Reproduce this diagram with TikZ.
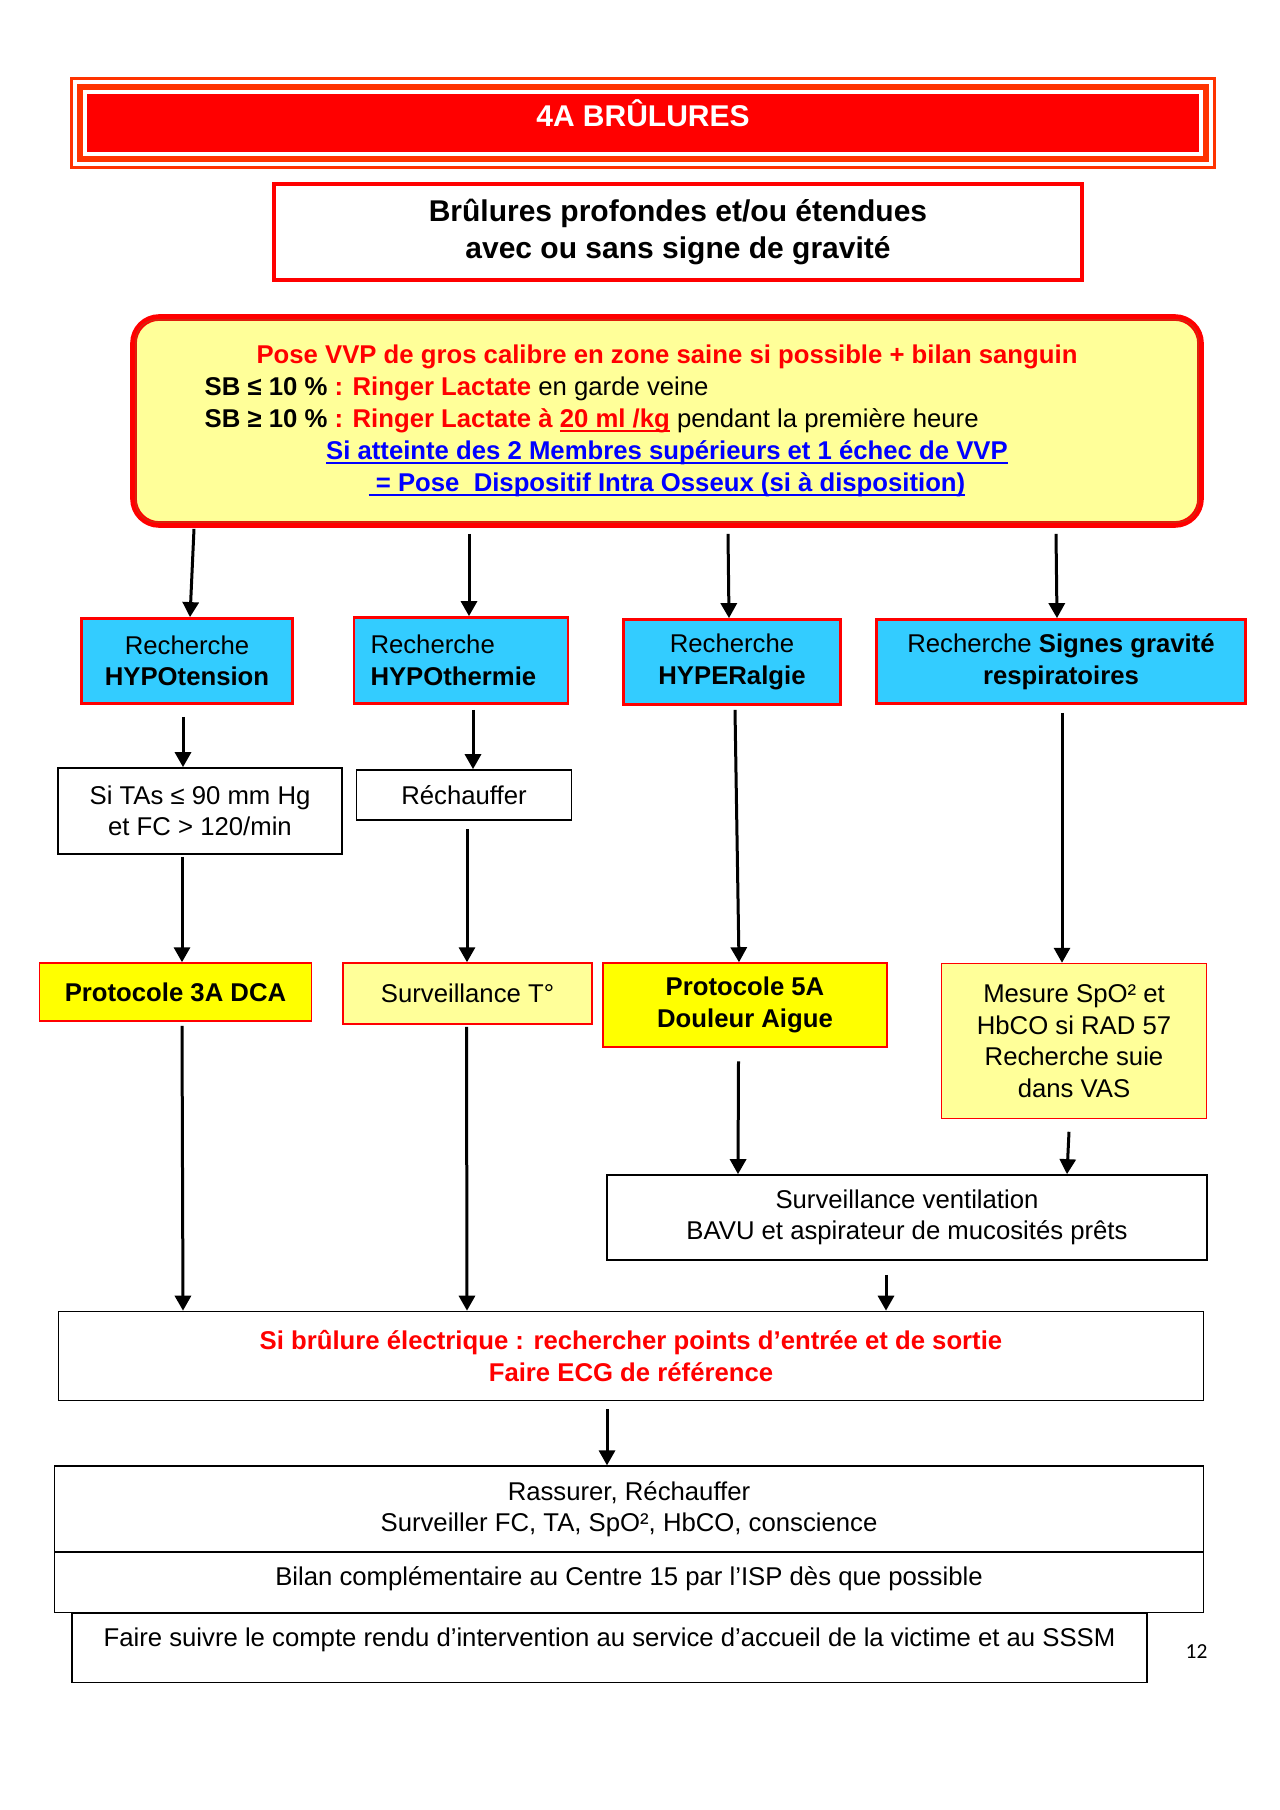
\documentclass[tikz,border=0pt]{standalone}
\usepackage{fontspec}
\setmainfont{Liberation Sans}
\newfontfamily\pagefont{Carlito}
\usetikzlibrary{arrows.meta, calc}
\newlength\pxu
\setlength\pxu{0.016406cm}
\newcommand\txt{\fontsize{12}{14.7}\selectfont}
\newsavebox\ulbox
\newcommand\undl[1]{\sbox\ulbox{#1}\rlap{\usebox\ulbox}\rule[-2pt]{\wd\ulbox}{0.8pt}}
\definecolor{ttlred}{HTML}{FF0000}
\definecolor{ttlorange}{HTML}{FF3300}
\definecolor{paleyellow}{HTML}{FFFF99}
\definecolor{skyblue}{HTML}{33CCFF}
\definecolor{protoyellow}{HTML}{FFFF00}
\definecolor{linkblue}{HTML}{0000FF}
\definecolor{innerred}{HTML}{D02A10}
\tikzstyle{titlebox} = [rectangle, fill=ttlred, text=white, inner sep=0pt, font=\fontsize{14}{17}\selectfont\bfseries]
\tikzstyle{ttlframe} = [draw=ttlorange]
\tikzstyle{subbox} = [rectangle, draw=ttlred, line width=2.2pt, align=center, font=\fontsize{14}{17.4}\selectfont\bfseries]
\tikzstyle{vvpbox} = [rectangle, rounded corners=12pt, draw=ttlred, line width=3.1pt, fill=paleyellow, align=center, font=\fontsize{12}{14.9}\selectfont]
\tikzstyle{vvpinner} = [draw=innerred, line width=0.6pt, rounded corners=9.5pt]
\tikzstyle{search} = [rectangle, draw=ttlred, line width=1.3pt, fill=skyblue, align=center]
\tikzstyle{block} = [rectangle, draw=black, line width=0.8pt, align=center]
\tikzstyle{strip} = [rectangle, draw=black, line width=0.8pt, inner sep=0pt]
\tikzstyle{proto} = [rectangle, draw=ttlred, line width=0.7pt, fill=protoyellow, align=center, font=\txt\bfseries]
\tikzstyle{watch} = [rectangle, draw=ttlred, line width=0.7pt, fill=paleyellow, align=center]
\tikzstyle{arrow} = [line width=1.4pt,->,>={Triangle[length=7pt,width=7.5pt]}]

\begin{document}
\begin{tikzpicture} [x=0.016406cm, y=-0.016406cm, font=\txt]
\useasboundingbox (0,0) rectangle (1280,1810);

\node (title) [titlebox, minimum width=1112\pxu, text height=15pt, text depth=12pt] at (643,123) {4A BRÛLURES};
\foreach \o/\w in {6.65/3.1pt, 15.15/1.7pt}
  \draw [ttlframe, line width=\w] ($(title.north west)+(-\o,-\o)$) rectangle ($(title.south east)+(\o,\o)$);

\node (sub) [subbox, minimum width=808\pxu, minimum height=96\pxu] at (678,232) {Brûlures profondes et/ou étendues\\avec ou sans signe de gravité};

\node (vvp) [vvpbox, minimum width=1067\pxu, minimum height=207\pxu] at (667,421) {%
\textcolor{ttlred}{\textbf{Pose VVP de gros calibre en zone saine si possible + bilan sanguin}}\\
\makebox[431.5pt][l]{\textbf{SB ≤ 10 \% }\textcolor{ttlred}{\textbf{: Ringer Lactate}} en garde veine}\\
\makebox[431.5pt][l]{\textbf{SB ≥ 10 \% }\textcolor{ttlred}{\textbf{: Ringer Lactate à \undl{20 ml /kg}}} pendant la première heure}\\
\textcolor{linkblue}{\textbf{\undl{Si atteinte des 2 Membres supérieurs et 1 échec de VVP}}}\\
\textcolor{linkblue}{\textbf{\undl{\ = Pose\ \ Dispositif Intra Osseux (si à disposition)}}}};
\draw [vvpinner] ($(vvp.north west)+(5.7,5.7)$) rectangle ($(vvp.south east)+(-5.7,-5.7)$);

\node (hypot) [search, minimum width=211\pxu, minimum height=85\pxu] at (187,661) {Recherche\\\textbf{HYPOtension}};
\node (hypoth) [search, minimum width=214\pxu, minimum height=86\pxu, text width=181\pxu, align=left] at (461,660.5) {Recherche\\\textbf{HYPOthermie}};
\node (hyper) [search, minimum width=217\pxu, minimum height=85\pxu] at (732,662) {Recherche\\\textbf{HYPERalgie}};
\node (resp) [search, minimum width=369\pxu, minimum height=84\pxu] at (1061,661.5) {Recherche \textbf{Signes gravité}\\\textbf{respiratoires}};

\node (tas) [block, minimum width=284\pxu, minimum height=86\pxu] at (200,811) {Si TAs ≤ 90 mm Hg\\et FC > 120/min};
\node (warm) [block, minimum width=215\pxu, minimum height=50\pxu] at (464,795) {Réchauffer};

\node (dca) [proto, minimum width=272\pxu, minimum height=58\pxu] at (175.5,992) {Protocole 3A DCA};
\node (temp) [watch, minimum width=249\pxu, minimum height=61\pxu] at (467.5,993.5) {Surveillance T°};
\node (pain) [proto, minimum width=284\pxu, minimum height=84\pxu] at (745,1005) {Protocole 5A\\Douleur Aigue};
\node (spo) [watch, minimum width=265\pxu, minimum height=155\pxu] at (1074,1041) {Mesure SpO² et\\HbCO si RAD 57\\Recherche suie\\dans VAS};

\node (vent) [block, minimum width=600\pxu, minimum height=85\pxu] at (907,1217.5) {Surveillance ventilation\\BAVU et aspirateur de mucosités prêts};
\node (elec) [block, minimum width=1145\pxu, minimum height=89\pxu, text=ttlred, font=\txt\bfseries] at (631,1356) {Si brûlure électrique : rechercher points d’entrée et de sortie\\Faire ECG de référence};
\node (calm) [block, minimum width=1149\pxu, minimum height=85.6\pxu] at (629,1509) {Rassurer, Réchauffer\\Surveiller FC, TA, SpO², HbCO, conscience};
\node (bilan) [strip, minimum width=1149\pxu, text height=15.65pt, text depth=12.75pt] at (629,1582) {Bilan complémentaire au Centre 15 par l’ISP dès que possible};
\node (report) [strip, minimum width=1075\pxu, text height=15.65pt, text depth=16.9pt] at (609.5,1647.5) {Faire suivre le compte rendu d’intervention au service d’accueil de la victime et au SSSM};
\node (pgnum) [font=\pagefont\fontsize{10}{12}\selectfont] at (1196.5,1651.6) {12};

\draw [arrow] ($(vvp.south)+(-473,1)$) -- ($(hypot.north)+(3,0)$);
\draw [arrow] ($(vvp.south)+(-198,6)$) -- ($(hypoth.north)+(8,0)$);
\draw [arrow] ($(vvp.south)+(61,6)$) -- ($(hyper.north)+(-3,0)$);
\draw [arrow] ($(vvp.south)+(389,6)$) -- ($(resp.north)+(-4,0)$);
\draw [arrow] ($(hypot.south)+(-4,12)$) -- ($(tas.north)+(-17,0)$);
\draw [arrow] ($(hypoth.south)+(12,5)$) -- ($(warm.north)+(9,0)$);
\draw [arrow] ($(tas.south)+(-18,2)$) -- ($(dca.north)+(6.5,0)$);
\draw [arrow] ($(warm.south)+(3,8.5)$) -- ($(temp.north)+(-0.5,0)$);
\draw [arrow] ($(hyper.south)+(3,4)$) -- ($(pain.north)+(-6,0)$);
\draw [arrow] ($(resp.south)+(1,8)$) -- ($(spo.north)+(-12,0)$);
\draw [arrow] ($(pain.south)+(-6.5,13.5)$) -- ($(vent.north)+(-169,0)$);
\draw [arrow] ($(spo.south)+(-5,12.5)$) -- ($(vent.north)+(160,0)$);
\draw [arrow] ($(dca.south)+(6.5,4)$) -- ($(elec.north)+(-448,0)$);
\draw [arrow] ($(temp.south)+(-1,2)$) -- ($(elec.north)+(-164,0)$);
\draw [arrow] ($(vent.south)+(-21,14)$) -- ($(elec.north)+(255,0)$);
\draw [arrow] ($(elec.south)+(-24,8)$) -- ($(calm.north)+(-22,0)$);

\end{tikzpicture}
\end{document}
